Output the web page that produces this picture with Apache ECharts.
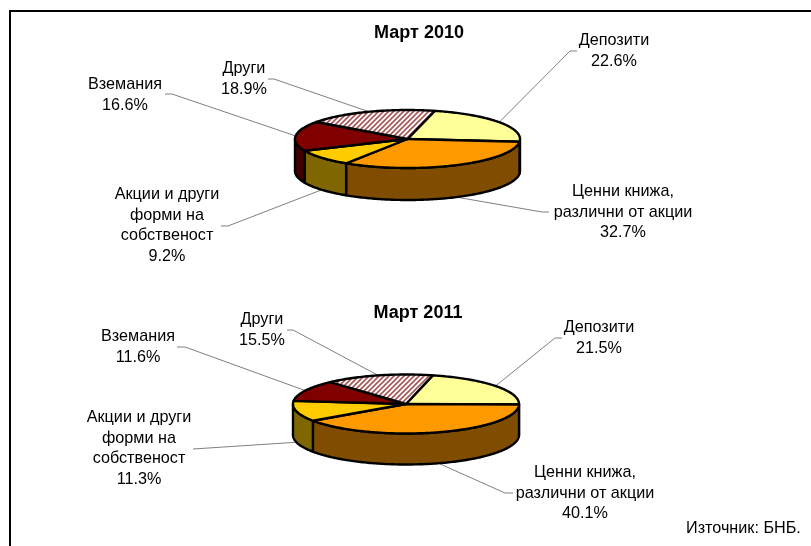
<!DOCTYPE html>
<html>
<head>
<meta charset="utf-8">
<style>html,body{margin:0;padding:0;background:#fff}#c{width:811px;height:546px}</style>
<script src="https://cdn.jsdelivr.net/npm/echarts@6/dist/echarts.min.js"></script>
</head>
<body>
<div id="c"></div>
<script>
// ---- data ----
const categories = ['Депозити', 'Ценни книжа,\nразлични от акции', 'Акции и други\nформи на\nсобственост', 'Вземания', 'Други'];
const titles = ['Март 2010', 'Март 2011'];
const values2010 = [22.6, 32.7, 9.2, 16.6, 18.9];
const values2011 = [21.5, 40.1, 11.3, 11.6, 15.5];
const sourceNote = 'Източник: БНБ.';

// ---- look ----
const topColors = ['#FFFF99', '#FF9900', '#FFCC00', '#800000', 'hatch'];
const sideColors = ['#80804D', '#804D00', '#806600', '#400000', '#804D4D'];
const FONT = '16.2px "Liberation Sans", Arial, sans-serif';
const LINE_H = 20.5;

// ---- layout ----
const layout2010 = {
  cx: 407.5, cy: 139, rx: 112.5, ry: 29, depth: 32, startAngle: 14,
  labelX: [614, 623, 167, 125, 244], labelY: [41, 192, 195, 85, 69],
  leaderA: [[577,51],[549,212],[221,226],[165,94],[268,79]],
  leaderB: [[570,51],[542,212],[228,226],[172,94],[274,79]]
};
const layout2011 = {
  cx: 406, cy: 404, rx: 113, ry: 29.5, depth: 31, startAngle: 13.7,
  labelX: [599, 585, 139, 138, 262], labelY: [328, 473, 418, 337, 320],
  leaderA: [[562,338],[513,493],[193,449],[177,347],[287,330]],
  leaderB: [[555,338],[505,493],[193,449],[185,347],[293,330]]
};

function hatchPattern() {
  const n = 5, cv = document.createElement('canvas');
  cv.width = n; cv.height = n;
  const g = cv.getContext('2d');
  g.fillStyle = '#fff'; g.fillRect(0, 0, n, n);
  g.strokeStyle = '#A85858'; g.lineWidth = 1.7;
  [[-1, n + 1, n + 1, -1], [-2, 2, 2, -2], [n - 2, n + 2, n + 2, n - 2]].forEach(function (s) {
    g.beginPath(); g.moveTo(s[0], s[1]); g.lineTo(s[2], s[3]); g.stroke();
  });
  return { image: cv, repeat: 'repeat' };
}
const hatch = hatchPattern();

function pieSeries(values, L) {
  const total = values.reduce(function (a, b) { return a + b; }, 0);
  const pt = function (deg, dy) {
    const r = deg * Math.PI / 180;
    return [L.cx + L.rx * Math.sin(r), L.cy - L.ry * Math.cos(r) + (dy || 0)];
  };
  const arc = function (a, b, dy) {
    const pts = [], n = Math.max(2, Math.ceil(Math.abs(b - a)));
    for (let i = 0; i <= n; i++) pts.push(pt(a + (b - a) * i / n, dy));
    return pts;
  };
  return {
    type: 'custom',
    coordinateSystem: 'none',
    silent: true,
    animation: false,
    data: values.map(function (v, i) { return { value: [v, i], name: categories[i] }; }),
    renderItem: function (params, api) {
      const i = api.value(1), v = api.value(0);
      let before = 0;
      for (let k = 0; k < i; k++) before += values[k];
      const a = L.startAngle + before / total * 360;
      const b = a + v / total * 360;
      const mid = (a + b) / 2;
      const children = [];
      const edge = { stroke: '#000', lineWidth: 2.4, lineJoin: 'round' };

      // leader line, from label to the rim at the slice's mid angle
      const midNorm = ((mid % 360) + 360) % 360;
      const lower = midNorm > 90 && midNorm < 270;
      children.push({
        type: 'polyline', z2: 0,
        shape: { points: [L.leaderA[i], L.leaderB[i], pt(mid, lower ? L.depth : 0)] },
        style: { stroke: '#808080', lineWidth: 1, fill: null }
      });

      // visible side wall: the part of the slice in the front half
      const sa = Math.max(a, 90), sb = Math.min(b, 270);
      if (sb > sa) {
        children.push({
          type: 'polygon', z2: 1,
          shape: { points: arc(sa, sb, 0).concat(arc(sb, sa, L.depth)) },
          style: Object.assign({ fill: sideColors[i] }, edge)
        });
      }

      // top face
      children.push({
        type: 'polygon', z2: 2,
        shape: { points: [[L.cx, L.cy]].concat(arc(a, b, 0)) },
        style: Object.assign({ fill: topColors[i] === 'hatch' ? hatch : topColors[i] }, edge)
      });

      // label
      const lines = categories[i].split('\n').concat([v.toFixed(1) + '%']);
      lines.forEach(function (t, k) {
        children.push({
          type: 'text', z2: 3,
          style: {
            text: t, x: L.labelX[i], y: L.labelY[i] + k * LINE_H,
            align: 'center', verticalAlign: 'middle', font: FONT, fill: '#000'
          }
        });
      });
      return { type: 'group', children: children };
    }
  };
}

const chart = echarts.init(document.getElementById('c'), null, { renderer: 'canvas' });
chart.setOption({
  backgroundColor: '#fff',
  animation: false,
  title: [
    { text: titles[0], left: 419, top: 24, textAlign: 'center', padding: 0,
      textStyle: { fontFamily: '"Liberation Sans", Arial, sans-serif', fontSize: 18, fontWeight: 'bold', color: '#000' } },
    { text: titles[1], left: 418, top: 304, textAlign: 'center', padding: 0,
      textStyle: { fontFamily: '"Liberation Sans", Arial, sans-serif', fontSize: 18, fontWeight: 'bold', color: '#000' } }
  ],
  graphic: [
    { type: 'polyline', shape: { points: [[811, 11], [10, 11], [10, 546]] }, style: { stroke: '#000', lineWidth: 2, fill: null }, silent: true },
    { type: 'text', x: 686, y: 521, style: { text: sourceNote, font: '16.2px "Liberation Sans", Arial, sans-serif', fill: '#000' }, silent: true }
  ],
  series: [pieSeries(values2010, layout2010), pieSeries(values2011, layout2011)]
});
</script>
</body>
</html>
